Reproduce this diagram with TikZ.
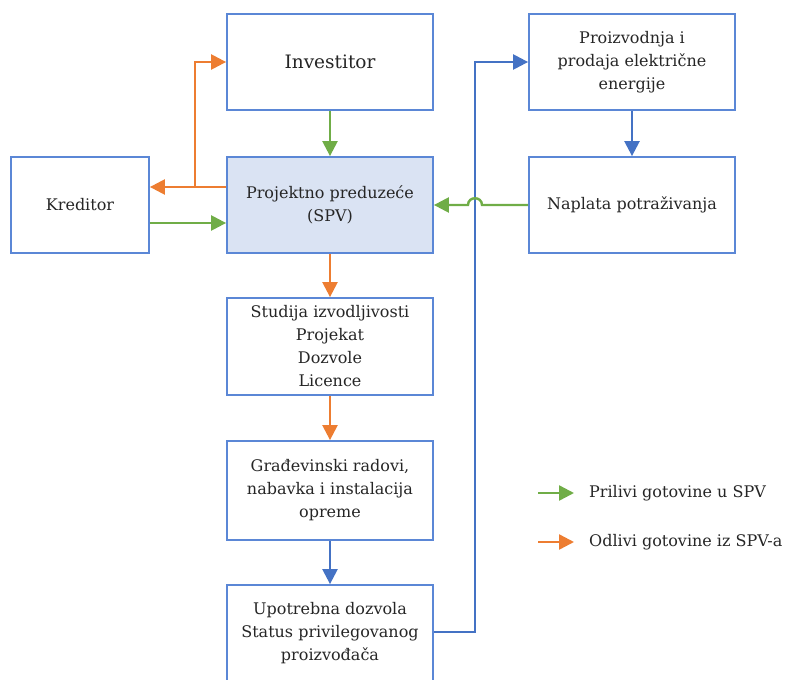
\documentclass[tikz,border=0pt]{standalone}
\usepackage{fontspec}
\setmainfont{DejaVu Serif}
\usetikzlibrary{arrows.meta}
\definecolor{boxblue}{HTML}{5B87D6}
\definecolor{spvfill}{HTML}{DAE3F3}
\definecolor{agreen}{HTML}{70AD47}
\definecolor{aorange}{HTML}{ED7D31}
\definecolor{ablue}{HTML}{4472C4}
\definecolor{txt}{HTML}{262626}
\tikzset{
  boxnode/.style={draw=boxblue, line width=1.8pt, fill=white, minimum width=206pt, minimum height=96pt,
    align=center, text=txt, inner sep=0pt, font=\fontsize{16}{23}\selectfont},
  conn/.style={line width=2.4pt, -{Triangle[length=15pt,width=15pt]}},
  garrow/.style={conn, draw=agreen},
  oarrow/.style={conn, draw=aorange},
  barrow/.style={conn, draw=ablue},
  legtext/.style={anchor=west, text=txt, inner sep=0pt, font=\fontsize{16}{18}\selectfont}
}
\begin{document}
\begin{tikzpicture}[x=1pt,y=-1pt]
\useasboundingbox (0,0) rectangle (785,680);
\clip (0,0) rectangle (785,680);
% boxes
\node[boxnode, font=\fontsize{18.5}{23}\selectfont] (inv) at (330,62) {Investitor};
\node[boxnode] (pro) at (632,62) {\raisebox{0pt}{Proizvodnja i}\\prodaja električne\\energije};
\node[boxnode, minimum width=138pt] (kred) at (80,205) {Kreditor};
\node[boxnode, fill=spvfill] (spv) at (330,205) {Projektno preduzeće\\(SPV)};
\node[boxnode] (nap) at (632,205) {Naplata potraživanja};
\node[boxnode, minimum height=97pt] (stu) at (330,346.5) {Studija izvodljivosti\\Projekat\\Dozvole\\Licence};
\node[boxnode, minimum height=99pt] (gra) at (330,490.5) {Građevinski radovi,\\nabavka i instalacija\\opreme};
\node[boxnode] (upo) at (330,633) {Upotrebna dozvola\\Status privilegovanog\\proizvođača};
% junction coordinates
\coordinate (br) at (195,187);
\coordinate (bl1) at (475,632);
\coordinate (bl2) at (475,62);
% connectors
\draw[garrow] (inv.south) -- (spv.north);
\draw[oarrow] (spv.west |- br) -- (kred.east |- br);
\draw[oarrow] (br) -- (br |- inv.west) -- (inv.west);
\draw[garrow] (kred.east |- 0,223) -- (spv.west |- 0,223);
\draw[barrow] (pro.south) -- (nap.north);
\draw[oarrow] (spv.south) -- (stu.north);
\draw[oarrow] (stu.south) -- (gra.north);
\draw[barrow] (gra.south) -- (upo.north);
\draw[barrow] (upo.east |- bl1) -- (bl1) -- (bl2) -- (pro.west);
\draw[garrow] (nap.west) -- (482,205) .. controls (482,196) and (468,196) .. (468,205) -- (spv.east);
% legend
\node[legtext] (leg1) at (589,493) {Prilivi gotovine u SPV};
\node[legtext] (leg2) at (589,542) {Odlivi gotovine iz SPV-a};
\draw[garrow] (538,493) -- ([xshift=-15pt]leg1.west);
\draw[oarrow] (538,542) -- ([xshift=-15pt]leg2.west);
\end{tikzpicture}
\end{document}
